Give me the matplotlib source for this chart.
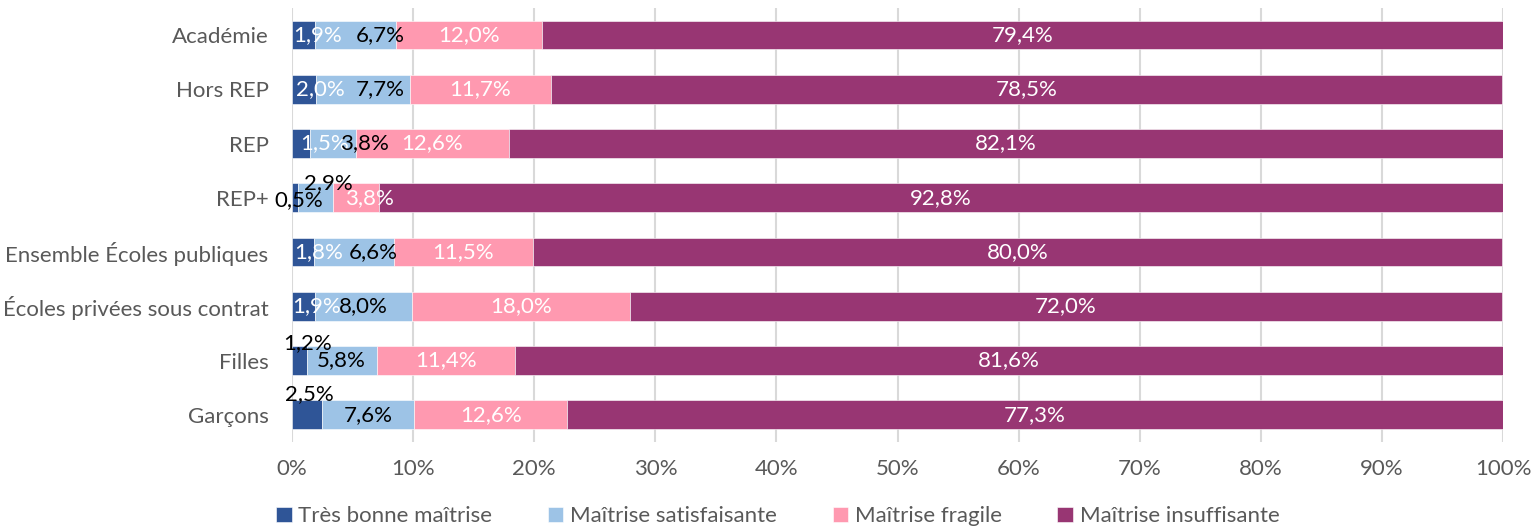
import numpy as np
import matplotlib
matplotlib.use("Agg")
import matplotlib.pyplot as plt

plt.rcParams['font.family'] = ['Lato', 'DejaVu Sans']

# ---------------------------------------------------------------
# Données
categories = ['Académie', 'Hors REP', 'REP', 'REP+', 'Ensemble Écoles publiques',
              'Écoles privées sous contrat', 'Filles', 'Garçons']
series_names = ['Très bonne maîtrise', 'Maîtrise satisfaisante',
                'Maîtrise fragile', 'Maîtrise insuffisante']
tres_bonne = [1.9, 2.0, 1.5, 0.5, 1.8, 1.9, 1.2, 2.5]
satisfaisante = [6.7, 7.7, 3.8, 2.9, 6.6, 8.0, 5.8, 7.6]
fragile = [12.0, 11.7, 12.6, 3.8, 11.5, 18.0, 11.4, 12.6]
insuffisante = [79.4, 78.5, 82.1, 92.8, 80.0, 72.0, 81.6, 77.3]
x_ticks = [0, 10, 20, 30, 40, 50, 60, 70, 80, 90, 100]

colors = ['#2F5597', '#9DC3E6', '#FF99B0', '#983673']
label_colors = ['white', 'black', 'white', 'white']

# décalages manuels des étiquettes (en %, en unités de catégorie)
dx = {0: [1.12, 1.3, 1.95, 0.33, 1.3, 1.05, 0.65, 0.15],
      1: [2.0, 1.4, 2.55, 1.05, 1.6, 0.0, 0.0, 0.0],
      2: [0, 0, 0, 1.05, 0, 0, 0, 0]}
dy = {0: [0, 0, 0, 0.05, 0, 0, -0.32, -0.39],
      1: [0, 0, 0, -0.28, 0, 0, 0, 0]}
dark_label_black = [False, False, False, True, False, False, True, True]

data = [tres_bonne, satisfaisante, fragile, insuffisante]
FS = 16

fig = plt.figure(figsize=(15.34, 5.28), dpi=100)
ax = fig.add_axes([0.1904, 0.163, 0.7894, 0.822])

y = np.arange(len(categories))
left = np.zeros(len(categories))
for k, vals in enumerate(data):
    vals = np.array(vals)
    ax.barh(y, vals, left=left, height=0.53, color=colors[k],
            edgecolor='white', linewidth=0.4, label=series_names[k], zorder=3)
    for i, v in enumerate(vals):
        cx = left[i] + v / 2 + dx.get(k, [0] * 8)[i]
        cy = y[i] + dy.get(k, [0] * 8)[i]
        c = label_colors[k]
        if k == 0 and dark_label_black[i]:
            c = 'black'
        ax.text(cx, cy, f"{v:.1f}%".replace('.', ','), ha='center', va='center',
                color=c, fontsize=FS, zorder=5)
    left += vals

ax.set_xlim(0, 100)
ax.set_ylim(len(categories) - 0.5, -0.5)
ax.set_yticks(y)
ax.set_yticklabels(categories, fontsize=FS, color='#595959')
ax.set_xticks(x_ticks)
ax.set_xticklabels([f"{t}%" for t in x_ticks], fontsize=FS, color='#595959')
ax.tick_params(axis='y', length=0, pad=17)
ax.tick_params(axis='x', length=0, pad=12)
ax.grid(axis='x', color='#D9D9D9', linewidth=1.5, zorder=0)
for s in ax.spines.values():
    s.set_visible(False)

fig.legend(loc='lower center', bbox_to_anchor=(0.507, -0.035), ncol=4, frameon=False,
           fontsize=FS, handlelength=0.7, handleheight=0.7, handletextpad=0.3,
           columnspacing=2.5, labelcolor='#595959')

fig.savefig('out.png', dpi=100)
